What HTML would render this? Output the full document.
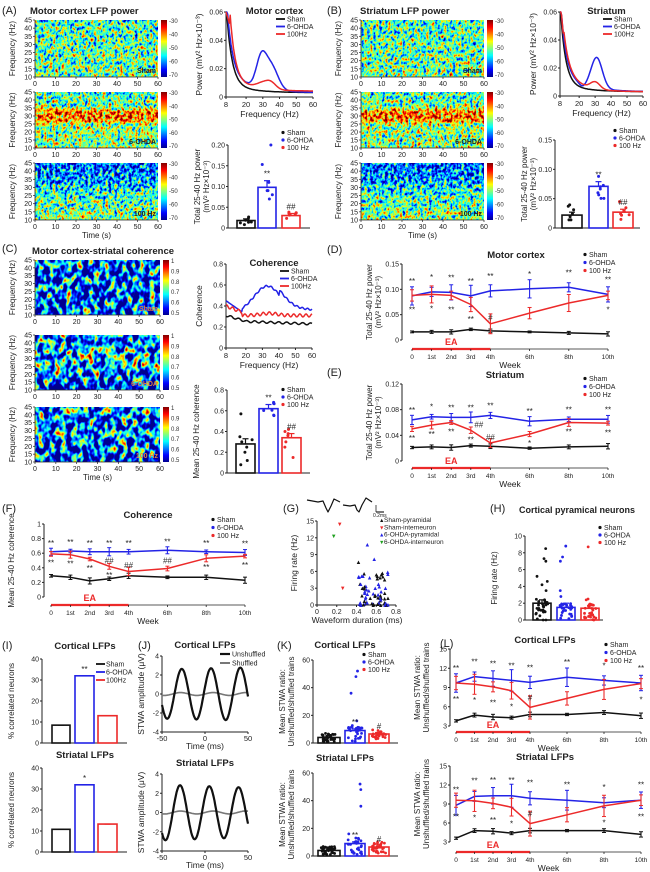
<!DOCTYPE html>
<html><head><meta charset="utf-8">
<style>
html,body{margin:0;padding:0;background:#fff;overflow:hidden;}
svg{display:block;font-family:"Liberation Sans",Arial,sans-serif;}
</style></head>
<body>
<svg id="s" width="650" height="872" viewBox="0 0 650 872" xmlns="http://www.w3.org/2000/svg">
<defs>
<linearGradient id="jetbar" x1="0" y1="1" x2="0" y2="0">
<stop offset="0" stop-color="#00008f"/><stop offset="0.125" stop-color="#0000ff"/><stop offset="0.25" stop-color="#0080ff"/><stop offset="0.375" stop-color="#00ffff"/><stop offset="0.5" stop-color="#80ff80"/><stop offset="0.625" stop-color="#ffff00"/><stop offset="0.75" stop-color="#ff8000"/><stop offset="0.875" stop-color="#ff0000"/><stop offset="1" stop-color="#800000"/>
</linearGradient>
<linearGradient id="gSham" x1="0" y1="0" x2="0" y2="1"><stop offset="0" stop-color="#707070"/><stop offset="1" stop-color="#7c7c7c"/></linearGradient>
<linearGradient id="gOH" x1="0" y1="0" x2="0" y2="1"><stop offset="0" stop-color="#727272"/><stop offset="0.25" stop-color="#787878"/><stop offset="0.36" stop-color="#c4c4c4"/><stop offset="0.5" stop-color="#bcbcbc"/><stop offset="0.6" stop-color="#848484"/><stop offset="1" stop-color="#7e7e7e"/></linearGradient>
<linearGradient id="g100" x1="0" y1="0" x2="0" y2="1"><stop offset="0" stop-color="#383838"/><stop offset="0.3" stop-color="#484848"/><stop offset="0.6" stop-color="#707070"/><stop offset="1" stop-color="#848484"/></linearGradient>
<linearGradient id="cSham" x1="0" y1="0" x2="0" y2="1"><stop offset="0" stop-color="#383838"/><stop offset="1" stop-color="#303030"/></linearGradient>
<linearGradient id="cOH" x1="0" y1="0" x2="0" y2="1"><stop offset="0" stop-color="#303030"/><stop offset="0.3" stop-color="#585858"/><stop offset="0.55" stop-color="#5e5e5e"/><stop offset="0.8" stop-color="#303030"/><stop offset="1" stop-color="#202020"/></linearGradient>
<linearGradient id="c100" x1="0" y1="0" x2="0" y2="1"><stop offset="0" stop-color="#404040"/><stop offset="0.5" stop-color="#404040"/><stop offset="1" stop-color="#282828"/></linearGradient>
<filter id="jetF" x="0" y="0" width="1" height="1" color-interpolation-filters="sRGB">
<feTurbulence type="fractalNoise" baseFrequency="0.34 0.26" numOctaves="2" seed="4" result="n"/>
<feColorMatrix in="n" type="matrix" values="1 0 0 0 0 1 0 0 0 0 1 0 0 0 0 0 0 0 0 1" result="g"/>
<feComposite in="g" in2="SourceGraphic" operator="arithmetic" k1="0" k2="1.3" k3="1" k4="-0.65" result="c"/>
<feComponentTransfer in="c">
<feFuncR type="table" tableValues="0 0 0 0 0.5 1 1 1 0.5"/>
<feFuncG type="table" tableValues="0 0 0.5 1 1 1 0.5 0 0"/>
<feFuncB type="table" tableValues="0.56 1 1 1 0.5 0 0 0 0"/>
<feFuncA type="linear" slope="0" intercept="1"/>
</feComponentTransfer>
</filter>
<filter id="jetC" x="0" y="0" width="1" height="1" color-interpolation-filters="sRGB">
<feTurbulence type="fractalNoise" baseFrequency="0.18 0.13" numOctaves="2" seed="9" result="n"/>
<feColorMatrix in="n" type="matrix" values="1 0 0 0 0 1 0 0 0 0 1 0 0 0 0 0 0 0 0 1" result="g"/>
<feComposite in="g" in2="SourceGraphic" operator="arithmetic" k1="0" k2="2.0" k3="1" k4="-1.0" result="c"/>
<feComponentTransfer in="c">
<feFuncR type="table" tableValues="0 0 0 0 0.5 1 1 1 0.5"/>
<feFuncG type="table" tableValues="0 0 0.5 1 1 1 0.5 0 0"/>
<feFuncB type="table" tableValues="0.56 1 1 1 0.5 0 0 0 0"/>
<feFuncA type="linear" slope="0" intercept="1"/>
</feComponentTransfer>
</filter>
</defs>
<g id="root"></g>
</svg>
<script>
var s='';
var BL='#2323e6',RD='#ec2a2a',BK='#111';
function T(x,y,t,sz,o){o=o||{};var a=o.a||'start',w=o.w||'normal',c=o.c||'#222';
 var tr=o.r?(' transform="rotate('+o.r+' '+x+' '+y+')"'):'';
 s+='<text x="'+x+'" y="'+y+'" font-size="'+sz+'" text-anchor="'+a+'" font-weight="'+w+'" fill="'+c+'"'+tr+'>'+t+'</text>';}
function L(x1,y1,x2,y2,c,w){s+='<line x1="'+x1+'" y1="'+y1+'" x2="'+x2+'" y2="'+y2+'" stroke="'+(c||'#222')+'" stroke-width="'+(w||1)+'"/>';}
function P(pts,c,w){s+='<polyline fill="none" stroke="'+c+'" stroke-width="'+(w||1.5)+'" stroke-linejoin="round" points="'+pts.map(function(p){return p[0].toFixed(1)+','+p[1].toFixed(1)}).join(' ')+'"/>';}
function R(x,y,w,h,f,st,sw,extra){s+='<rect x="'+x+'" y="'+y+'" width="'+w+'" height="'+h+'" fill="'+(f||'none')+'"'+(st?' stroke="'+st+'" stroke-width="'+(sw||1)+'"':'')+(extra||'')+'/>';}
function C(x,y,r,f){s+='<circle cx="'+x+'" cy="'+y+'" r="'+r+'" fill="'+f+'"/>';}
var seed=7;function rnd(){seed=(seed*16807)%2147483647;return (seed-1)/2147483646;}

function spec(x,y,w,h,grad,filt,cb,lab,labc,time){
 R(x,y,w,h,'url(#'+grad+')',null,null,' filter="url(#'+filt+')"');
 R(x+w+3,y,6,h,'url(#jetbar)');
 for(var i=0;i<cb.length;i++){T(x+w+11,y+3+i*(h-3)/(cb.length-1),cb[i],6,{c:'#333'});}
 L(x,y,x,y+h,'#222',0.8);L(x,y+h,x+w,y+h,'#222',0.8);
 for(var f=10;f<=45;f+=5){var yy=y+h-(f-10)/35*h;L(x-2,yy,x,yy,'#222',0.7);T(x-3,yy+2.5,f,7,{a:'end'});}
 for(var t=0;t<=60;t+=10){var xx=x+t/60*w;L(xx,y+h,xx,y+h+2,'#222',0.7);T(xx,y+h+9,t,7,{a:'middle'});}
 T(x+w-2,y+h-4,lab,7,{a:'end',w:'bold',c:labc});
 T(x-20,y+h/2,'Frequency (Hz)',8,{a:'middle',r:-90});
 if(time)T(x+w/2,y+h+18,'Time (s)',8,{a:'middle'});
}
var lfpcb=['-30','-40','-50','-60','-70'],cohcb=['1','0.9','0.8','0.7','0.6','0.5'];
T(2,14,'(A)',11);T(30,14,'Motor cortex LFP power',9.5,{w:'bold'});
spec(35,20,123,57,'gSham','jetF',lfpcb,'Sham','#222');
spec(35,92,123,56,'gOH','jetF',lfpcb,'6-OHDA','#222');
spec(35,163,123,57,'g100','jetF',lfpcb,'100 Hz','#222',true);
T(327,14,'(B)',11);T(360,14,'Striatum LFP power',9.5,{w:'bold'});
spec(361,20,123,57,'gSham','jetF',lfpcb,'Sham','#222');
spec(361,92,123,56,'gOH','jetF',lfpcb,'6-OHDA','#222');
spec(361,163,123,57,'g100','jetF',lfpcb,'100 Hz','#222',true);
T(2,252,'(C)',11);T(32,254,'Motor cortex-striatal coherence',9.5,{w:'bold'});
spec(35,260,125,55,'cSham','jetC',cohcb,'Sham','#e08040');
spec(35,335,125,55,'cOH','jetC',cohcb,'6-OHDA','#e08040');
spec(35,407,125,55,'c100','jetC',cohcb,'100 Hz','#e08040',true);

function fchart(x0,x1,yT,y0,vmax,ticks,tfmt,title,ylab,curves,legx){
 L(x0,yT,x0,y0);L(x0,y0,x1,y0);
 ticks.forEach(function(v){var yy=y0-v/vmax*(y0-yT);L(x0-2,yy,x0,yy);T(x0-3,yy+2.5,tfmt(v),7,{a:'end'});});
 [8,20,30,40,50,60].forEach(function(f){var xx=x0+(f-8)/52*(x1-x0);L(xx,y0,xx,y0+2);T(xx,y0+10,f,7.5,{a:'middle'});});
 T((x0+x1)/2,y0+20,'Frequency (Hz)',8.5,{a:'middle'});
 T((x0+x1)/2+5,yT+2,title,9.5,{a:'middle',w:'bold'});
 T(x0-24,(yT+y0)/2,ylab,8.5,{a:'middle',r:-90});
 var cols=[BK,BL,RD],names=['Sham','6-OHDA','100Hz'];
 curves.forEach(function(fn,i){var pts=[];for(var f=8;f<=60;f+=0.5){var v=Math.min(vmax,fn(f));pts.push([x0+(f-8)/52*(x1-x0),y0-v/vmax*(y0-yT)]);}P(pts,cols[i],1.5);});
 for(var i=0;i<3;i++){L(legx,yT+7+i*7.5,legx+9,yT+7+i*7.5,cols[i],1.8);T(legx+11,yT+9.5+i*7.5,names[i],7);}
}
function g(f,m,sd){return Math.exp(-(f-m)*(f-m)/(2*sd*sd));}
var sham=function(f){return 0.003+0.058*Math.exp(-(f-8)/3.2)+0.006*Math.exp(-(f-8)/14);};
var ohA=function(f){return sham(f)+0.008*Math.exp(-(f-8)/14)+0.02*g(f,29,3)+0.017*g(f,35,4);};
var hzA=function(f){return f<10.5?0.06-0.004*(f-8):0.004+0.046*Math.exp(-(f-10.5)/3)+0.008*Math.exp(-(f-10)/14)+0.004*g(f,30,4)+0.004*g(f,35,3);};
var f3=function(v){return v===0?'0':v.toFixed(2)};
fchart(226,313,12,97,0.06,[0,0.02,0.04,0.06],f3,'Motor cortex','Power (mV² Hz×10⁻³)',[sham,ohA,hzA],276);
var ohB=function(f){return sham(f)+0.007*Math.exp(-(f-8)/14)+0.022*g(f,31,3.5)-0.002*g(f,22,2);};
var hzB=function(f){return sham(f)+0.009*Math.exp(-(f-12)/8)*(f>10?1:0.5)+0.005*g(f,30,3);};
fchart(560,643,12,96,0.06,[0,0.02,0.04,0.06],f3,'Striatum','Power (mV² Hz×10⁻³)',[sham,ohB,hzB],603);
var cS=function(f){return 0.31-0.004*(f-8)*(f<20?1:0)-0.05*(f>=20?1:0)+0.01*Math.sin(f*1.3)-0.0006*(f-8);};
var cO=function(f){return f<18?0.45-0.011*(f-8):0.34+0.25*g(f,33,8)+0.05*(f>40?1:0)*(1-(f-40)/40)+0.008*Math.sin(f*2);};
var cR=function(f){return 0.4-0.006*(f-8)*(f<18?1:0)-0.09*(f>=18?1:0)+0.015*Math.sin(f*1.7)+0.02*g(f,34,5);};
fchart(226,312,264,348,0.8,[0,0.2,0.4,0.6,0.8],function(v){return v===0?'0':v.toFixed(1)},'Coherence','Coherence',[cS,cO,cR],280);

function bars(ax,x1,yT,y0,vmax,ticks,tfmt,bs,ylab,legx,legy,lnames,dotty){
 L(ax,yT,ax,y0);L(ax,y0,x1,y0);
 ticks.forEach(function(v){var yy=y0-v/vmax*(y0-yT);L(ax-2,yy,ax,yy);T(ax-3,yy+2.5,tfmt(v),7,{a:'end'});});
 var cols=[BK,BL,RD];
 bs.forEach(function(b,i){var yy=y0-b.v/vmax*(y0-yT);
  R(b.x,yy,b.w,y0-yy,'#fff',cols[i],1.6);
  var ey=y0-(b.v+b.e)/vmax*(y0-yT);L(b.x+b.w/2,yy,b.x+b.w/2,ey,cols[i],1.2);L(b.x+b.w/2-3,ey,b.x+b.w/2+3,ey,cols[i],1.2);
  (b.d||[]).forEach(function(d){C(b.x+b.w/2+(rnd()-0.5)*b.w*0.7,y0-d/vmax*(y0-yT),dotty||1.5,cols[i]);});
  if(b.s)T(b.x+b.w/2,ey-4,b.s,8,{a:'middle',c:'#222'});
 });
 if(ylab){ylab.forEach(function(t,k){T(ax-28+k*9,(yT+y0)/2,t,8,{a:'middle',r:-90});});}
 if(lnames&&legx<700){lnames.forEach(function(n,i){C(legx,legy+i*7.5-2.5,1.6,cols[i]);T(legx+4,legy+i*7.5,n,7);});}
}
function dots(n,m,sp){var a=[];for(var i=0;i<n;i++)a.push(Math.max(0,m+(rnd()-0.5)*2*sp));return a;}
var ln3=['Sham','6-OHDA','100 Hz'];
bars(228,310,145,228,0.2,[0,0.05,0.1,0.15,0.2],function(v){return v===0?'0':v.toFixed(2)},
 [{x:237,w:18,v:0.018,e:0.004,d:dots(7,0.018,0.01)},{x:258,w:18,v:0.098,e:0.016,d:[0.2,0.153,0.09,0.08,0.07,0.11,0.09],s:'**'},{x:282,w:18,v:0.03,e:0.005,d:dots(7,0.03,0.013),s:'##'}],
 ['Total 25-40 Hz power','(mV² Hz×10⁻³)'],283,135,ln3);
bars(555,640,140,228,0.15,[0,0.05,0.1,0.15],function(v){return v===0?'0':v.toFixed(2)},
 [{x:562,w:20,v:0.022,e:0.005,d:dots(7,0.022,0.02)},{x:589,w:19,v:0.071,e:0.008,d:dots(8,0.07,0.022),s:'**'},{x:613,w:20,v:0.027,e:0.005,d:dots(7,0.028,0.02),s:'##'}],
 ['Total 25-40 Hz power','(mV² Hz×10⁻³)'],615,133,ln3);
bars(227,310,390,473,0.8,[0,0.2,0.4,0.6,0.8],function(v){return v===0?'0':v.toFixed(1)},
 [{x:236,w:19,v:0.28,e:0.05,d:[0.57,0.35,0.32,0.3,0.12,0.08,0.2,0.25]},{x:259,w:19,v:0.62,e:0.04,d:dots(7,0.62,0.08),s:'**'},{x:282,w:19,v:0.34,e:0.04,d:[0.42,0.4,0.38,0.3,0.25,0.15,0.36],s:'##'}],
 ['Mean 25-40 Hz coherence'],283,392,ln3);

var WK=[0,1,2,3,4,6,8,10],WL=['0','1st','2nd','3rd','4th','6th','8th','10th'];
function week(c){
 var sx=function(w){return c.x0+w/10*(c.x10-c.x0);},sy=function(v){return c.y0-(v-c.vmin)/(c.vmax-c.vmin)*(c.y0-c.yT);};
 L(c.ax,c.yT,c.ax,c.y0);
 c.ticks.forEach(function(v){var yy=sy(v);L(c.ax-2,yy,c.ax,yy);T(c.ax-3,yy+2.5,c.tf(v),7,{a:'end'});});
 L(sx(0),c.eay,sx(10),c.eay,'#222',0.8);
 L(sx(0),c.eay,sx(4),c.eay,RD,2.2);
 WK.forEach(function(w,i){L(sx(w),c.eay,sx(w),c.eay+2,'#222',0.8);T(sx(w),c.eay+10,WL[i],6.5,{a:'middle'});});
 T((sx(0)+sx(4))/2,c.eay-4,'EA',9,{a:'middle',c:RD,w:'bold'});
 T((c.x0+c.x10)/2,c.eay+19,'Week',8.5,{a:'middle'});
 T(c.tx,c.yT-6,c.title,9.5,{a:'middle',w:'bold'});
 c.ylab.forEach(function(t,k){T(c.ax-30+k*9,(c.yT+c.y0)/2,t,8,{a:'middle',r:-90});});
 var cols=[BK,BL,RD];
 [c.k,c.b,c.r].forEach(function(d,i){var pts=d.map(function(v,j){return [sx(WK[j]),sy(v)];});
  d.forEach(function(v,j){var e=c.err[i]*(0.6+0.8*((j*7+i*3)%5)/4);var x=sx(WK[j]);L(x,sy(v-e),x,sy(v+e),cols[i],1.1);L(x-2,sy(v+e),x+2,sy(v+e),cols[i],1);L(x-2,sy(v-e),x+2,sy(v-e),cols[i],1);});
  P(pts,cols[i],1.5);});
 c.b.forEach(function(v,j){var st=(c.sb||[])[j];if(st)T(sx(WK[j]),sy(v+c.err[1]*1.3)-2,st,8,{a:'middle'});});
 c.r.forEach(function(v,j){var st=(c.sr||[])[j];if(st)T(sx(WK[j]),sy(v-c.err[2]*1.3)+8,st,8,{a:'middle'});});
 (c.hash||[]).forEach(function(h){T(sx(h[0])+(h[2]||0),sy(h[1]),h[3],8,{a:'middle',c:'#333'});});
 if(c.lx<700)ln3.forEach(function(n,i){C(c.lx,c.ly+i*8-2.5,1.6,cols[i]);T(c.lx+4,c.ly+i*8,n,7);});
}
T(327,253,'(D)',11);
week({x0:412,x10:608,ax:402,yT:264,y0:340,vmin:0,vmax:0.15,ticks:[0,0.05,0.1,0.15],tf:function(v){return v===0?'0':v.toFixed(2)},eay:349,title:'Motor cortex',tx:516,ylab:['Total 25-40 Hz power','(mV² Hz×10⁻³)'],
 k:[.016,.016,.016,.021,.018,.016,.014,.012],b:[.087,.095,.094,.087,.097,.101,.104,.09],r:[.088,.09,.088,.07,.032,.053,.073,.088],err:[.003,.015,.014,.012],
 sb:['**','*','**','**','**','*','**','**'],sr:['**','*','**','**','','','','*'],hash:[[4,0.038,0,'#']],lx:585,ly:257});
T(327,376,'(E)',11);
week({x0:412,x10:608,ax:402,yT:384,y0:461,vmin:0,vmax:0.12,ticks:[0,0.04,0.08,0.12],tf:function(v){return v===0?'0':v.toFixed(2)},eay:468,title:'Striatum',tx:505,ylab:['Total 25-40 Hz power','(mV² Hz×10⁻³)'],
 k:[.021,.022,.021,.024,.023,.02,.022,.023],b:[.064,.069,.068,.068,.071,.062,.065,.065],r:[.05,.056,.06,.048,.028,.042,.06,.059],err:[.003,.006,.005,.005,.006],
 sb:['**','*','**','**','**','**','**','**'],sr:['**','**','**','**','','*','**','**'],hash:[[3,0.052,8,'##'],[4,0.033,0,'##']],lx:585,ly:381});
T(2,512,'(F)',11);
week({x0:51,x10:245,ax:44,yT:524,y0:597,vmin:0,vmax:1,ticks:[0,0.2,0.4,0.6,0.8,1],tf:function(v){return v===0||v===1?String(v):v.toFixed(1)},eay:605,title:'Coherence',tx:148,ylab:['Mean 25-40 Hz coherence'],
 k:[.29,.27,.22,.25,.29,.27,.27,.23],b:[.62,.63,.62,.62,.62,.64,.62,.61],r:[.59,.58,.52,.42,.35,.39,.53,.56],err:[.03,.04,.04,.04,.03],
 sb:['**','**','**','**','**','**','**','**'],sr:['**','**','**','**','','','**','**'],hash:[[3,0.46,0,'##'],[4,0.4,0,'##'],[6,0.46,0,'##']],lx:213,ly:522});
T(440,647,'(L)',11);
week({x0:456,x10:641,ax:450,yT:649,y0:726,vmin:3,vmax:15,ticks:[3,6,9,12,15],tf:String,eay:732,title:'Cortical LFPs',tx:545,ylab:['Mean STWA ratio:','Unshuffled/shuffled trains'],
 k:[3.8,4.7,4.4,4.3,4.8,4.8,5.1,4.6],b:[9.7,10.7,10.4,10.1,9.8,10.6,10.1,9.7],r:[9.7,9.5,9.1,8.5,5.9,7.3,8.7,9.6],err:[.3,1.2,1.3,1.2],
 sb:['**','**','**','**','**','**','*','**'],sr:['**','*','**','*','','','','*'],hash:[[4,7,0,'#']],lx:606,ly:647});
week({x0:456,x10:641,ax:450,yT:766,y0:842,vmin:3,vmax:15,ticks:[3,6,9,12,15],tf:String,eay:852,title:'Striatal LFPs',tx:545,ylab:['Mean STWA ratio:','Unshuffled/shuffled trains'],
 k:[3.6,4.8,4.7,4.4,4.8,4.8,4.8,4.2],b:[8.8,10.2,10.3,10.3,9.9,9.6,9.2,9.6],r:[9.6,9.5,9.1,8.5,5.9,7.3,8.7,9.6],err:[.3,1.3,1.4,1.2],
 sb:['**','**','**','**','**','**','*','**'],sr:['**','*','**','*','','','*','**'],hash:[[4,7,0,'#']],lx:900,ly:0});

T(283,512,'(G)',11);
P([[307,500],[318,502],[323,501],[326,508],[328,512],[331,506],[334,499],[340,502]],BK,1.2);
P([[343,505],[350,506],[355,505],[357,510],[359,512],[362,505],[366,498],[372,502]],BK,1.2);
L(376,505,376,512,'#222',0.8);L(376,512,384,512,'#222',1.2);T(373,517,'0.2ms',5,{});
var gx0=317,gx1=396,gyT=521,gy0=605;
L(gx0,gyT,gx0,gy0);L(gx0,gy0,gx1,gy0);
[0,3,6,9,12,15].forEach(function(v){var yy=gy0-v/15*(gy0-gyT);L(gx0-2,yy,gx0,yy);T(gx0-3,yy+2.5,v,7,{a:'end'});});
[0,0.2,0.4,0.6,0.8].forEach(function(v){var xx=gx0+v/0.8*(gx1-gx0);L(xx,gy0,xx,gy0+2);T(xx,gy0+9,v===0?'0':v.toFixed(1),7,{a:'middle'});});
T(357,623,'Waveform duration (ms)',8.5,{a:'middle'});T(297,563,'Firing rate (Hz)',8.5,{a:'middle',r:-90});
function gp(x,y,c,ch){T(gx0+x/0.8*(gx1-gx0),gy0-y/15*(gy0-gyT)+2,ch,6,{a:'middle',c:c});}
for(var i=0;i<70;i++){var xx=0.42+rnd()*0.3,yy=Math.pow(rnd(),1.8)*6;gp(xx,yy,i%2?BL:BK,'▲');}
gp(0.51,10.8,BL,'▲');gp(0.58,8.2,BL,'▲');gp(0.42,7.7,BK,'▲');
gp(0.23,14.5,RD,'▼');gp(0.26,3,RD,'▼');gp(0.17,12.3,'#20a020','▼');
var gl=[['Sham-pyramidal',BK,'▲'],['Sham-interneuron',RD,'▼'],['6-OHDA-pyramidal',BL,'▲'],['6-OHDA-interneuron','#20a020','▼']];
gl.forEach(function(g2,i){T(379,522+i*7.3,g2[2],5.5,{c:g2[1]});T(384,522+i*7.3,g2[0],6.5);});

T(490,512,'(H)',11);T(577,513,'Cortical pyramical neurons',9,{a:'middle',w:'bold'});
bars(525,603,536,620,10,[0,2,4,6,8,10],String,
 [{x:533,w:18,v:2,e:0.4,d:dots(30,1.2,1.3).concat([8.5,7.3,7,5.2,4.6,4.2,3.5])},{x:557,w:18,v:1.5,e:0.5,d:dots(25,1,1).concat([8.8,7.5,7,3.5,2.8])},{x:581,w:18,v:1.4,e:0.3,d:dots(25,1,1).concat([8.7,2.5,2.4])}],
 ['Firing rate (Hz)'],600,530,ln3,1.4);

T(2,649,'(I)',11);
function ibar(yT,y0,v,title,star){
 T(85,yT-10,title,9.5,{a:'middle',w:'bold'});
 bars(42,127,yT,y0,40,[0,10,20,30,40],String,[{x:52,w:18,v:v[0],e:0},{x:75,w:19,v:v[1],e:0,s:star},{x:98,w:19,v:v[2],e:0}],['% correlated neurons']);
}
ibar(659,743,[8.5,32,13],'Cortical LFPs','**');
ibar(768,852,[10.8,32,13.3],'Striatal LFPs','*');
[['Sham',BK],['6-OHDA',BL],['100Hz',RD]].forEach(function(n,i){L(96,664+i*8,105,664+i*8,n[1],1.8);T(106,666.5+i*8,n[0],7);});

T(138,649,'(J)',11);
function jplot(yT,y0,title,ph,amps){
 var x0=162,x1=248,ym=(yT+y0)/2,sc=(y0-yT)/8;
 L(x0,yT,x0,y0);L(x0,y0,x1,y0);
 [-4,-2,0,2,4].forEach(function(v){var yy=ym-v*sc;L(x0-2,yy,x0,yy);T(x0-3,yy+2.5,v,7,{a:'end'});});
 [-50,0,50].forEach(function(v){var xx=x0+(v+50)/100*(x1-x0);L(xx,y0,xx,y0+2);T(xx,y0+9,v,7.5,{a:'middle'});});
 T(205,y0+17,'Time (ms)',8.5,{a:'middle'});T(205,yT-8,title,9.5,{a:'middle',w:'bold'});
 T(144,(yT+y0)/2,'STWA amplitude (μV)',8.5,{a:'middle',r:-90});
 var pts=[],p2=[];for(var t=-50;t<=50;t+=1){var a=amps[0]+(amps[1]-amps[0])*(t+50)/100;pts.push([x0+(t+50)/100*(x1-x0),ym-a*Math.cos(2*Math.PI*(t-ph)/34)*sc]);p2.push([x0+(t+50)/100*(x1-x0),ym-0.15*Math.sin(t/6)*sc]);}
 P(p2,'#777',1.6);P(pts,'#111',2.2);
}
jplot(656,732,'Cortical LFPs',7,[2.6,2.8]);
jplot(774,851,'Striatal LFPs',5,[2.9,2.6]);
L(220,654,230,654,'#111',2.2);T(232,656.5,'Unshuffled',7);L(220,663,230,663,'#777',2);T(232,665.5,'Shuffled',7);

T(277,649,'(K)',11);
function kplot(yT,y0,title,leg){
 T(345,yT-12,title,9.5,{a:'middle',w:'bold'});
 bars(313,398,yT,y0,60,[0,20,40,60],String,
 [{x:318,w:22,v:4,e:0.5,d:dots(30,4,3)},{x:345,w:20,v:9,e:1.2,d:dots(30,7,6).concat([52,48,36,16]),s:'**'},{x:369,w:20,v:6.5,e:0.8,d:dots(30,6,4),s:'#'}],
 ['Mean STWA ratio:','Unshuffled/shuffled trains'],leg?364:900,657,ln3,1.4);
}
kplot(660,743,'Cortical LFPs',true);
kplot(773,856,'Striatal LFPs',false);

document.getElementById('root').innerHTML=s;
</script>
</body></html>
